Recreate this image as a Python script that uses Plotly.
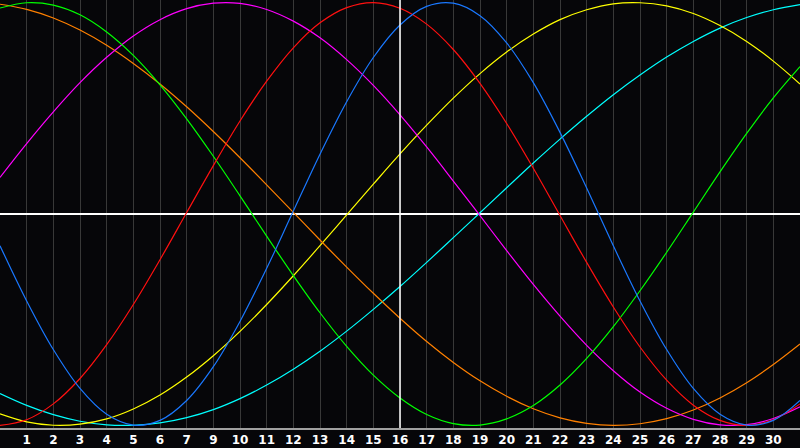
import plotly.graph_objects as go

# positions along the x axis (one unit per day column)
positions = list(range(31))

# tick labels at grid positions 1..29 (the "8" is absent in the reference)
tick_positions = list(range(1, 30))
tick_labels = ["1", "2", "3", "4", "5", "6", "7", "9", "10", "11", "12", "13", "14", "15",
               "16", "17", "18", "19", "20", "21", "22", "23", "24", "25", "26", "27", "28",
               "29", "30"]

today_position = 15

green = [0.974, 0.999, 0.988, 0.942, 0.861, 0.750, 0.611, 0.450, 0.273, 0.086, -0.105,
         -0.291, -0.467, -0.626, -0.762, -0.870, -0.948, -0.991, -0.998, -0.969, -0.906,
         -0.809, -0.683, -0.533, -0.363, -0.181, 0.009, 0.199, 0.381, 0.549, 0.697]
orange = [0.992, 0.968, 0.927, 0.870, 0.798, 0.712, 0.615, 0.507, 0.390, 0.266, 0.138,
          0.008, -0.123, -0.251, -0.375, -0.493, -0.603, -0.702, -0.789, -0.862, -0.921,
          -0.964, -0.990, -1.000, -0.992, -0.968, -0.927, -0.870, -0.798, -0.712, -0.615]
magenta = [0.173, 0.333, 0.483, 0.621, 0.741, 0.842, 0.919, 0.971, 0.997, 0.996, 0.967,
           0.912, 0.833, 0.730, 0.608, 0.469, 0.317, 0.156, -0.008, -0.173, -0.333,
           -0.483, -0.621, -0.741, -0.842, -0.919, -0.971, -0.997, -0.996, -0.967, -0.912]
red = [-1.000, -0.973, -0.898, -0.778, -0.618, -0.428, -0.216, 0.007, 0.229, 0.440, 0.628,
       0.786, 0.904, 0.976, 1.000, 0.973, 0.898, 0.778, 0.618, 0.428, 0.216, -0.007,
       -0.229, -0.440, -0.629, -0.786, -0.904, -0.976, -1.000, -0.973, -0.898]
blue = [-0.150, -0.411, -0.641, -0.825, -0.947, -0.998, -0.976, -0.882, -0.722, -0.508,
        -0.257, 0.014, 0.283, 0.531, 0.740, 0.894, 0.982, 0.997, 0.938, 0.809, 0.621,
        0.386, 0.123, -0.150, -0.411, -0.641, -0.825, -0.947, -0.998, -0.976, -0.882]
yellow = [-0.945, -0.983, -0.999, -0.994, -0.969, -0.922, -0.856, -0.771, -0.670, -0.555,
          -0.428, -0.292, -0.150, -0.004, 0.141, 0.284, 0.420, 0.548, 0.664, 0.766, 0.851,
          0.919, 0.966, 0.994, 0.999, 0.984, 0.948, 0.891, 0.816, 0.723, 0.615]
cyan = [-0.849, -0.905, -0.949, -0.980, -0.997, -0.999, -0.988, -0.963, -0.925, -0.873,
        -0.809, -0.734, -0.649, -0.554, -0.451, -0.343, -0.229, -0.112, 0.006, 0.124,
        0.241, 0.354, 0.462, 0.564, 0.657, 0.742, 0.816, 0.879, 0.929, 0.966, 0.990]

series = [
    ("cyan", cyan, "#00ffff"),
    ("yellow", yellow, "#ffff00"),
    ("orange", orange, "#ff8000"),
    ("magenta", magenta, "#ff00ff"),
    ("green", green, "#00ff00"),
    ("red", red, "#ff1010"),
    ("blue", blue, "#1a78ff"),
]

fig = go.Figure()
for name, vals, col in series:
    fig.add_trace(go.Scatter(x=positions, y=vals, mode="lines", name=name,
                             line=dict(color=col, width=1.2, shape="spline"),
                             hoverinfo="skip"))

fig.add_shape(type="line", xref="x", yref="paper", x0=today_position, x1=today_position,
              y0=0, y1=1, line=dict(color="#ffffff", width=1.5), layer="above")

fig.update_layout(
    width=800, height=448,
    margin=dict(l=0, r=0, t=0, b=20, autoexpand=False),
    paper_bgcolor="#060609",
    plot_bgcolor="#060609",
    showlegend=False,
    xaxis=dict(range=[0, 30], tickvals=tick_positions, ticktext=tick_labels,
               showgrid=True, gridcolor="#383838", gridwidth=1, zeroline=False,
               showline=True, linecolor="#a0a0a0", linewidth=1.5, mirror=True,
               ticks="", ticklen=0, automargin=False,
               tickfont=dict(color="#ffffff", size=12, family="DejaVu Sans", weight="bold")),
    yaxis=dict(range=[-1.012, 1.012], showgrid=False, zeroline=True,
               zerolinecolor="#ffffff", zerolinewidth=1.5, showticklabels=False,
               showline=True, linecolor="#a0a0a0", linewidth=1.5, mirror=True, ticks="",
               automargin=False),
)

fig.write_html("out.html",
               config={"displayModeBar": False, "staticPlot": True},
               post_script="document.body.style.margin='0';document.body.style.background='#060609';")
